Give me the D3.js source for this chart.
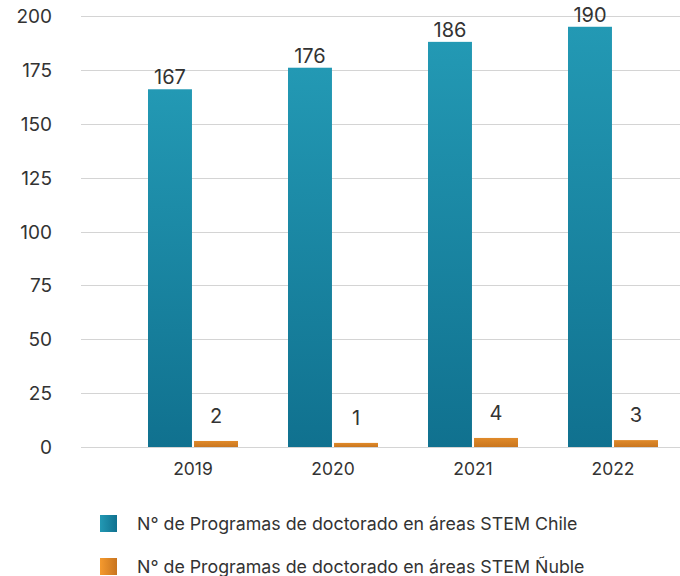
<!DOCTYPE html>
<html>
<head>
<meta charset="utf-8">
<script src="https://cdn.jsdelivr.net/npm/d3@7"></script>
<style>
  html, body { margin: 0; padding: 0; background: #fff; }
  svg { display: block; font-family: "Inter", "Noto Sans", sans-serif; }
  .grid line { stroke: #d4d4d4; stroke-width: 1; }
  .ytick { font-size: 19px; fill: #333; }
  .xtick { font-size: 17.5px; fill: #333; }
  .val { font-size: 20px; fill: #333; }
  .legend text { font-size: 17.8px; fill: #333; }
</style>
</head>
<body>
<svg id="chart" width="680" height="576"></svg>
<script>
const years = ["2019", "2020", "2021", "2022"]
// bar heights as drawn in the picture, labels as printed on it
const chileBars = [166, 176, 188, 195]
const chileLabels = ["167", "176", "186", "190"]
const nubleBars = [2.8, 1.9, 4.2, 3.2]
const nubleLabels = ["2", "1", "4", "3"]
const yTicks = [0, 25, 50, 75, 100, 125, 150, 175, 200]
const seriesNames = [
  "N° de Programas de doctorado en áreas STEM Chile",
  "N° de Programas de doctorado en áreas STEM Ñuble"
]

const svg = d3.select("#chart")

const defs = svg.append("defs")
function grad(id, top, bottom, horiz) {
  const g = defs.append("linearGradient").attr("id", id)
    .attr("x1", 0).attr("y1", 0).attr("x2", horiz ? 1 : 0).attr("y2", horiz ? 0 : 1)
  g.append("stop").attr("offset", "0%").attr("stop-color", top)
  g.append("stop").attr("offset", "100%").attr("stop-color", bottom)
}
grad("tealV", "#2399b4", "#10718f", false)
grad("orangeV", "#e08a2a", "#c9761f", false)
grad("tealH", "#2399b4", "#10718f", true)
grad("orangeH", "#f59a2e", "#c8741f", true)

const y = d3.scaleLinear().domain([0, 200]).range([447, 16])
const x = d3.scaleBand().domain(years).range([123, 683]).paddingInner(50 / 140).paddingOuter(25 / 140)
const sub = d3.scaleBand().domain(["chile", "nuble"]).range([0, x.bandwidth()]).paddingInner(0.045)

// grid + y labels
const grid = svg.append("g").attr("class", "grid")
grid.selectAll("line").data(yTicks).enter().append("line")
  .attr("x1", 81).attr("x2", 680)
  .attr("y1", (d) => Math.round(y(d)) + 0.5).attr("y2", (d) => Math.round(y(d)) + 0.5)

svg.append("g").selectAll("text").data(yTicks).enter().append("text")
  .attr("class", "ytick")
  .attr("x", 52).attr("y", (d) => y(d) + 7)
  .attr("text-anchor", "end").text((d) => d)

// bars
const groups = svg.append("g").selectAll("g").data(years).enter().append("g")
  .attr("transform", (d) => `translate(${x(d)},0)`)

groups.append("rect")
  .attr("x", sub("chile")).attr("width", sub.bandwidth())
  .attr("y", (d, i) => y(chileBars[i])).attr("height", (d, i) => y(0) - y(chileBars[i]))
  .attr("fill", "url(#tealV)")

groups.append("rect")
  .attr("x", sub("nuble")).attr("width", sub.bandwidth())
  .attr("y", (d, i) => y(nubleBars[i])).attr("height", (d, i) => y(0) - y(nubleBars[i]))
  .attr("fill", "url(#orangeV)")

groups.append("text").attr("class", "val")
  .attr("x", sub("chile") + sub.bandwidth() / 2)
  .attr("y", (d, i) => y(chileBars[i]) - 5)
  .attr("text-anchor", "middle").text((d, i) => chileLabels[i])

groups.append("text").attr("class", "val")
  .attr("x", sub("nuble") + sub.bandwidth() / 2)
  .attr("y", (d, i) => y(nubleBars[i]) - 18)
  .attr("text-anchor", "middle").text((d, i) => nubleLabels[i])

groups.append("text").attr("class", "xtick")
  .attr("x", x.bandwidth() / 2).attr("y", 475)
  .attr("text-anchor", "middle").text((d) => d)

// legend
const legend = svg.append("g").attr("class", "legend")
const fills = ["url(#tealH)", "url(#orangeH)"]
seriesNames.forEach((name, i) => {
  const g = legend.append("g").attr("transform", `translate(100,${515 + i * 43})`)
  g.append("rect").attr("width", 17).attr("height", 17).attr("fill", fills[i])
  g.append("text").attr("x", 37).attr("y", 14.5).text(name)
})
</script>
</body>
</html>
